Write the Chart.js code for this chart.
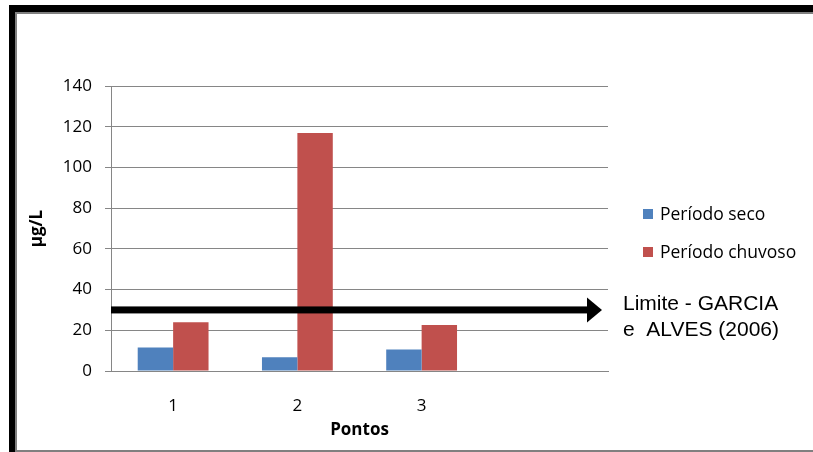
<!DOCTYPE html>
<html>
<head>
<meta charset="utf-8">
<script src="https://cdn.jsdelivr.net/npm/chart.js@4.4.1/dist/chart.umd.min.js"></script>
<style>
  html, body { margin: 0; padding: 0; background: #fff; overflow: hidden; }
  #wrap { position: relative; width: 813px; height: 452px; overflow: hidden; }
  #shadow { position: absolute; left: 9px; top: 5px; width: 900px; height: 500px; background: #000; }
  #frame { position: absolute; left: 15px; top: 12px; width: 900px; height: 436px;
           border: 2px solid #808080; border-right: none; background: #fff; }
  #myChart { position: absolute; left: 0; top: 0; }
</style>
</head>
<body>
<div id="wrap">
  <div id="shadow"></div>
  <div id="frame"></div>
  <canvas id="myChart" width="813" height="452"></canvas>
</div>
<script>
var pontos = ["1", "2", "3", ""];
var seriesNames = ["Período seco", "Período chuvoso"];
var secoValues = [11.6, 6.7, 10.6];
var chuvosoValues = [23.9, 116.9, 22.6];
var barColors = ["#4F81BD", "#C0504D"];
var yTicks = [0, 20, 40, 60, 80, 100, 120, 140];
var limitValue = 30;
var limitText = ["Limite - GARCIA", "e  ALVES (2006)"];

var FONT = "'Open Sans', sans-serif";

// legend + limit arrow, drawn on top of the chart
var extras = {
    id: "extras",
    afterDatasetsDraw: function (chart) {
        var ctx = chart.ctx;
        var area = chart.chartArea;
        var y = chart.scales.y.getPixelForValue(limitValue);
        var tipX = area.right - 6;
        var headX = tipX - 15;

        ctx.save();
        ctx.fillStyle = "#000";
        ctx.fillRect(area.left, y - 3.5, headX - area.left, 7);
        ctx.beginPath();
        ctx.moveTo(headX, y - 12.5);
        ctx.lineTo(tipX, y);
        ctx.lineTo(headX, y + 12.5);
        ctx.closePath();
        ctx.fill();

        ctx.font = "21px 'Liberation Sans', Arial, sans-serif";
        ctx.textBaseline = "alphabetic";
        ctx.textAlign = "left";
        ctx.fillText(limitText[0], area.right + 15, 310);
        ctx.fillText(limitText[1], area.right + 15, 336);

        ctx.font = "17.5px " + FONT;
        ctx.textBaseline = "middle";
        var legY = [214, 252];
        for (var i = 0; i < seriesNames.length; i++) {
            ctx.fillStyle = barColors[i];
            ctx.fillRect(area.right + 35, legY[i] - 5, 10, 10);
            ctx.fillStyle = "#000";
            ctx.fillText(seriesNames[i], area.right + 52, legY[i] + 1);
        }
        ctx.restore();
    }
};

new Chart("myChart", {
    type: "bar",
    data: {
        labels: pontos,
        datasets: [{
            label: seriesNames[0],
            backgroundColor: barColors[0],
            data: secoValues
        }, {
            label: seriesNames[1],
            backgroundColor: barColors[1],
            data: chuvosoValues
        }]
    },
    plugins: [extras],
    options: {
        responsive: false,
        animation: false,
        events: [],
        layout: { padding: { left: 17, top: 86, right: 205, bottom: 4 } },
        datasets: { bar: { categoryPercentage: 0.57, barPercentage: 1 } },
        plugins: {
            legend: { display: false },
            tooltip: { enabled: false },
            title: { display: false }
        },
        scales: {
            x: {
                grid: { display: false },
                border: { color: "#868686", width: 1 },
                ticks: { color: "#000", font: { family: FONT, size: 17 }, padding: 17 },
                title: {
                    display: true, text: "Pontos", color: "#000",
                    font: { family: FONT, size: 17, weight: "bold" },
                    padding: { top: 0, bottom: 8 }
                },
                afterFit: function (scale) { scale.height = 452 - 4 - 371; }
            },
            y: {
                min: 0,
                max: 140,
                afterBuildTicks: function (scale) {
                    scale.ticks = yTicks.map(function (v) { return { value: v }; });
                },
                grid: { color: "#868686", tickLength: 6, drawTicks: true },
                border: { color: "#868686", width: 1 },
                ticks: { color: "#000", font: { family: FONT, size: 17 }, padding: 13 },
                title: {
                    display: true, text: "µg/L", color: "#000",
                    font: { family: FONT, size: 17, weight: "bold" },
                    padding: { top: 10, bottom: 0 }
                },
                afterFit: function (scale) { scale.width = 111 - 17; }
            }
        }
    }
});
</script>
</body>
</html>
